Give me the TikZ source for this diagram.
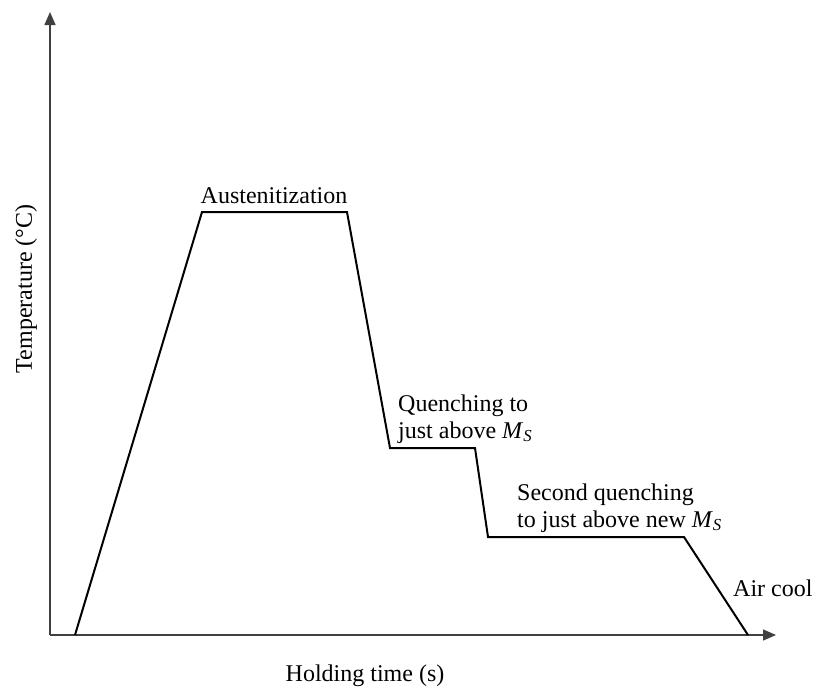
\documentclass[tikz,border=0pt]{standalone}
\usepackage{fontspec}
\setmainfont{Liberation Serif}
\usetikzlibrary{arrows, arrows.meta}
\usetikzlibrary{calc}

\tikzset{
  axis/.style={draw=black!75, line width=1.4pt, -{Triangle[length=13pt, width=11pt]}},
  cycle/.style={draw=black, line width=2pt, line join=miter},
  lbl/.style={inner sep=0pt, align=left, font=\fontsize{24}{27}\selectfont},
}
\newcommand{\Ms}{\textit{M}\textsubscript{\textit{S}}}

\begin{document}
\begin{tikzpicture}[x=1pt, y=-1pt]
      \useasboundingbox (0,0) rectangle (814,688);
      % axes
      \coordinate (o) at (50,635);
      \coordinate (ytop) at (50,12);
      \coordinate (xend) at (776,635);
      \draw[axis] (o) -- (ytop);
      \draw[axis] (o) -- (xend);
      % heat treatment path
      \foreach \n/\x/\y in {p0/75/635, p1/202/212, p2/347/212, p3/390/448,
                            p4/475/448, p5/488/537, p6/684/537, p7/748/635} {
        \coordinate (\n) at (\x,\y);
      }
      \draw[cycle] (p0) -- (p1) -- (p2) -- (p3) -- (p4) -- (p5) -- (p6) -- (p7);
      % labels
      \node[lbl, anchor=base] (aus) at (274,203) {Austenitization};
      \node[lbl, anchor=base west] (q1) at (398,438) {Quenching to\\just above \Ms};
      \node[lbl, anchor=base west] (q2) at (517,527) {Second quenching\\to just above new \Ms};
      \node[lbl, anchor=base west] (air) at (733,596) {Air cool};
      \node[lbl, rotate=90] (ylab) at (26,289) {Temperature (°C)};
      \node[lbl, anchor=base] (xlab) at (365,681) {Holding time (s)};
    \end{tikzpicture}
\end{document}
